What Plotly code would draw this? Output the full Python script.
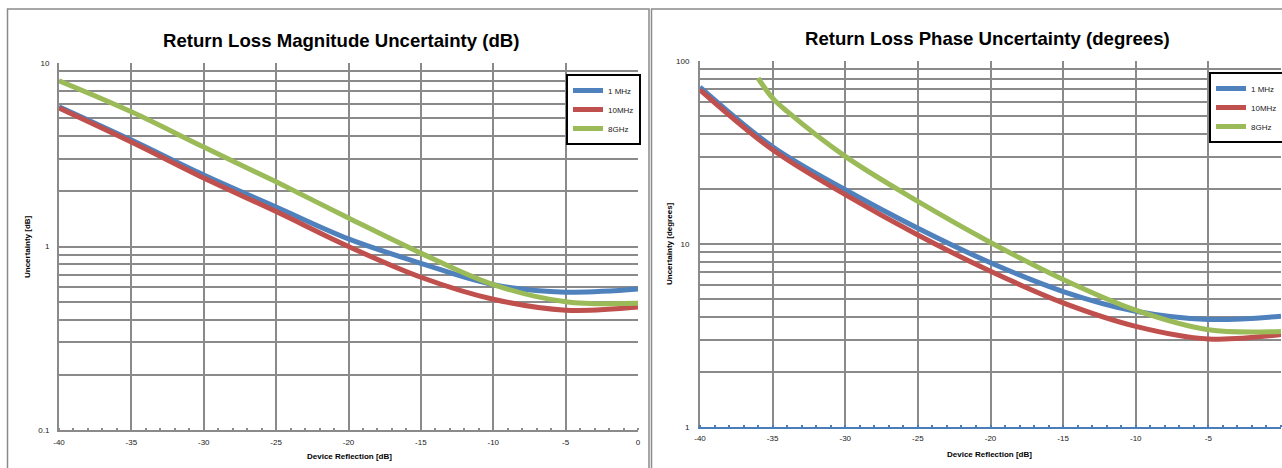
import plotly.graph_objects as go

# ---------------- data ----------------
x_db = [-40, -35, -30, -25, -20, -15, -10, -5, 0]

mag_1mhz = [5.78, 3.80, 2.45, 1.64, 1.10, 0.81, 0.62, 0.564, 0.586]
mag_10mhz = [5.69, 3.71, 2.36, 1.55, 1.00, 0.68, 0.516, 0.45, 0.468]
mag_8ghz = [8.0, 5.42, 3.48, 2.25, 1.43, 0.92, 0.62, 0.50, 0.49]

ph_1mhz = [72.0, 34.0, 19.8, 12.2, 7.9, 5.5, 4.29, 3.87, 4.03]
ph_10mhz = [69.5, 32.7, 18.6, 11.2, 7.1, 4.77, 3.55, 3.03, 3.2]
x_ph_8ghz = [-36, -35, -34, -30, -25, -20, -15, -10, -5, 0]
ph_8ghz = [80.5, 62.7, 53.0, 30.1, 17.1, 10.2, 6.4, 4.35, 3.40, 3.33]

series_names = ["1 MHz", "10MHz", "8GHz"]
series_colors = ["#4F81BD", "#C0504D", "#9BBB59"]

x_ticks = [-40, -35, -30, -25, -20, -15, -10, -5, 0]
x_ticktext = ["-40", "-35", "-30", "-25", "-20", "-15", "-10", "-5", "0"]

W, H = 1282, 468
GRID = "#8a8a8a"
FONT = "Liberation Sans"


def log_ticks(dec_lo, dec_hi):
    vals, txt = [], []
    for d in range(dec_lo, dec_hi):
        for m in range(1, 10):
            v = m * 10 ** d
            vals.append(v)
            txt.append("%g" % v if m == 1 else "")
    v = 10 ** dec_hi
    vals.append(v)
    txt.append("%g" % v)
    return vals, txt


fig = go.Figure()

for name, col, ys in zip(series_names, series_colors, [mag_1mhz, mag_10mhz, mag_8ghz]):
    fig.add_trace(go.Scatter(x=x_db, y=ys, name=name, mode="lines",
                             line=dict(color=col, width=5, shape="spline", smoothing=1.0),
                             xaxis="x", yaxis="y", legend="legend"))

for name, col, xs, ys in zip(series_names, series_colors,
                             [x_db, x_db, x_ph_8ghz], [ph_1mhz, ph_10mhz, ph_8ghz]):
    fig.add_trace(go.Scatter(x=xs, y=ys, name=name, mode="lines",
                             line=dict(color=col, width=5, shape="spline", smoothing=1.0),
                             xaxis="x2", yaxis="y2", legend="legend2"))

yv1, yt1 = log_ticks(-1, 1)
yv2, yt2 = log_ticks(0, 2)

tickfont = dict(family=FONT, size=8, color="#222")


def xaxis_cfg(domain, anchor, linecolor, standoff):
    return dict(domain=domain, anchor=anchor, range=[-40, 0], tickvals=x_ticks,
                ticktext=x_ticktext, showgrid=True, gridcolor=GRID, gridwidth=1.6,
                zeroline=False, ticks="", tickfont=tickfont, showline=True,
                linewidth=2, linecolor=linecolor, ticklabelstandoff=standoff,
                minor=dict(dtick=1, ticks="inside", ticklen=2, tickwidth=1.5,
                           tickcolor=linecolor, showgrid=False))


def yaxis_cfg(domain, anchor, rng, vals, txt, standoff):
    return dict(domain=domain, anchor=anchor, type="log", range=rng,
                tickvals=vals, ticktext=txt, showgrid=True, gridcolor=GRID, gridwidth=1.6,
                zeroline=False, ticks="", tickfont=tickfont, showline=True,
                linecolor=GRID, linewidth=2, ticklabelstandoff=standoff)


def legend_cfg(x, y):
    return dict(x=x, y=y, xanchor="left", yanchor="top", bgcolor="white",
                bordercolor="black", borderwidth=2,
                font=dict(family=FONT, size=8, color="#222"), itemwidth=30,
                tracegroupgap=0)


fig.update_layout(
    width=W, height=H,
    margin=dict(l=0, r=0, t=0, b=0, pad=0, autoexpand=False),
    paper_bgcolor="white", plot_bgcolor="white",
    showlegend=True,
    xaxis=xaxis_cfg([59 / W, 638 / W], "y", GRID, 3),
    yaxis=yaxis_cfg([1 - 430 / H, 1 - 63 / H], "x", [-1, 1], yv1, yt1, 6),
    xaxis2=xaxis_cfg([700 / W, 1281 / W], "y2", "#4A7EBB", 2),
    yaxis2=yaxis_cfg([1 - 427 / H, 1 - 61 / H], "x2", [0, 2], yv2, yt2, 7),
    legend=legend_cfg(566 / W, 1 - 74 / H),
    legend2=legend_cfg(1209 / W, 1 - 72 / H),
)

ann = [
    dict(text="<b>Return Loss Magnitude Uncertainty (dB)</b>", x=341 / W, y=1 - 40 / H,
         font=dict(family=FONT, size=18.6, color="black")),
    dict(text="<b>Return Loss Phase Uncertainty (degrees)</b>", x=987 / W, y=1 - 38 / H,
         font=dict(family=FONT, size=18.6, color="black")),
    dict(text="<b>Device Reflection [dB]</b>", x=349 / W, y=1 - 456 / H,
         font=dict(family=FONT, size=8, color="black")),
    dict(text="<b>Device Reflection [dB]</b>", x=990 / W, y=1 - 454 / H,
         font=dict(family=FONT, size=8, color="black")),
    dict(text="<b>Uncertainty [dB]</b>", x=27 / W, y=1 - 247 / H, textangle=-90,
         font=dict(family=FONT, size=8, color="black")),
    dict(text="<b>Uncertainty [degrees]</b>", x=669 / W, y=1 - 244 / H, textangle=-90,
         font=dict(family=FONT, size=8, color="black")),
]
for a in ann:
    a.update(xref="paper", yref="paper", showarrow=False, xanchor="center", yanchor="middle")
fig.update_layout(annotations=ann)

fig.update_layout(shapes=[
    dict(type="rect", xref="paper", yref="paper", x0=7.5 / W, x1=649 / W, y0=-0.05, y1=1 - 9 / H,
         line=dict(color=GRID, width=1.5), layer="below"),
    dict(type="rect", xref="paper", yref="paper", x0=651.5 / W, x1=1.05, y0=-0.05, y1=1 - 9 / H,
         line=dict(color=GRID, width=1.5), layer="below"),
])

fig.write_html(
    "out.html",
    config={"displayModeBar": False, "responsive": False},
    post_script="document.body.style.margin='0';document.body.style.padding='0';"
                "document.documentElement.style.overflow='hidden';",
)
